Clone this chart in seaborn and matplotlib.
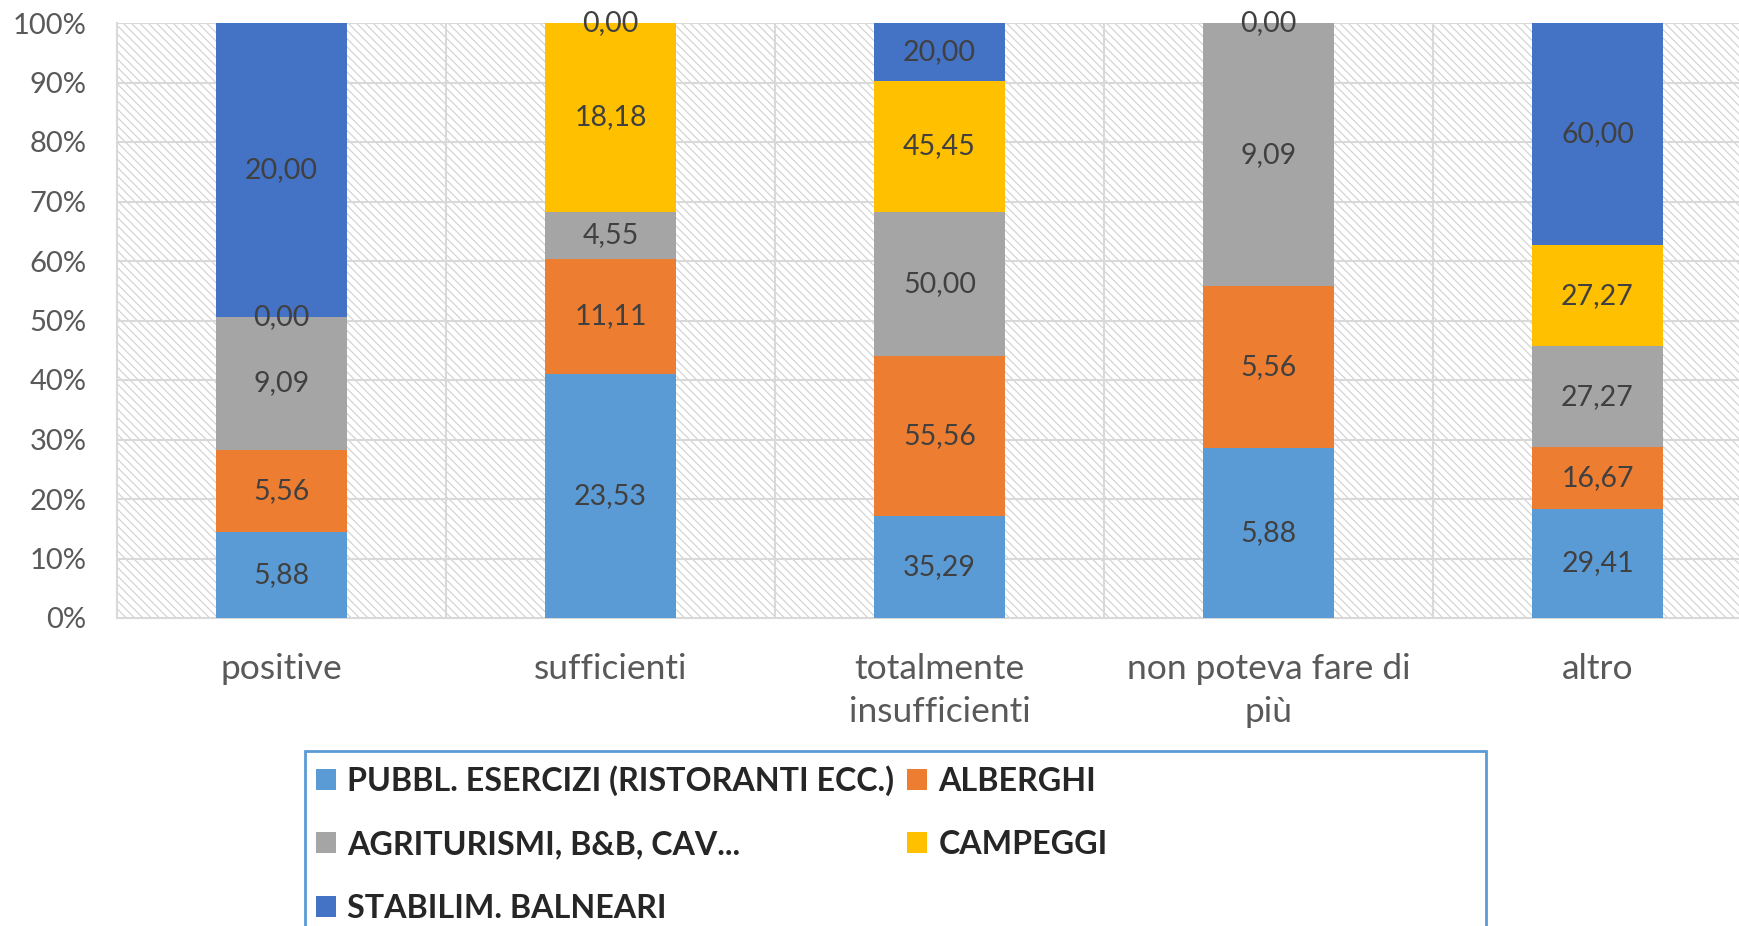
import numpy as np
import pandas as pd
import matplotlib
matplotlib.use("Agg")
import matplotlib.pyplot as plt
from matplotlib.patches import Rectangle, Patch
from matplotlib.ticker import PercentFormatter
import seaborn as sns

# Valori (ogni colonna viene normalizzata al 100%)
categories = ["positive", "sufficienti", "totalmente\ninsufficienti",
              "non poteva fare di\npiù", "altro"]
series_names = ["PUBBL. ESERCIZI (RISTORANTI ECC.)", "ALBERGHI",
                "AGRITURISMI, B&B, CAV...", "CAMPEGGI", "STABILIM. BALNEARI"]
pubbl = [5.88, 23.53, 35.29, 5.88, 29.41]
alberghi = [5.56, 11.11, 55.56, 5.56, 16.67]
agriturismi = [9.09, 4.55, 50.00, 9.09, 27.27]
campeggi = [0.00, 18.18, 45.45, np.nan, 27.27]
balneari = [20.00, 0.00, 20.00, 0.00, 60.00]
colors = ["#5B9BD5", "#ED7D31", "#A5A5A5", "#FFC000", "#4472C4"]

FONT = "Lato"
TEXT_COLOR = "#595959"
GRID_COLOR = "#D9D9D9"


def build_table():
    df = pd.DataFrame({
        "categoria": categories,
        series_names[0]: pubbl,
        series_names[1]: alberghi,
        series_names[2]: agriturismi,
        series_names[3]: campeggi,
        series_names[4]: balneari,
    })
    totals = df[series_names].sum(axis=1)
    for name in series_names:
        df[name + "_pct"] = df[name].fillna(0) / totals * 100
    return df


def fmt(v):
    if pd.isna(v):
        return ""
    return f"{v:.2f}".replace(".", ",")


def draw(df):
    sns.set_style("white")
    plt.rcParams["font.family"] = [FONT, "DejaVu Sans"]
    plt.rcParams["hatch.linewidth"] = 0.8

    fig = plt.figure(figsize=(17.39, 9.26), dpi=100)
    # l'area del grafico prosegue oltre il bordo destro dell'immagine
    ax = fig.add_axes([117 / 1739, (926 - 618) / 926, 1645 / 1739, (618 - 23) / 926])

    # sfondo tratteggiato dell'area del grafico
    ax.add_patch(Rectangle((0, 0), 1, 1, transform=ax.transAxes, facecolor="white",
                           edgecolor="#CFCFCF", hatch="\\\\\\\\", linewidth=0, zorder=0))

    bottom = np.zeros(len(df))
    for name, col in zip(series_names, colors):
        sns.barplot(x=df["categoria"], y=df[name + "_pct"], color=col, width=0.4,
                    bottom=bottom, errorbar=None, saturation=1, linewidth=0,
                    ax=ax, zorder=3)
        ax.bar_label(ax.containers[-1], labels=[fmt(v) for v in df[name]],
                     label_type="center", fontsize=20.5, color="#404040", zorder=4)
        bottom = bottom + df[name + "_pct"].to_numpy()

    ax.set_xlim(-0.5, len(categories) - 0.5)
    ax.set_ylim(0, 100)
    ax.set_yticks(np.arange(0, 101, 10))
    ax.yaxis.set_major_formatter(PercentFormatter(decimals=0))
    ax.hlines(np.arange(10, 101, 10), -0.5, len(categories) - 0.5,
              color=GRID_COLOR, linewidth=1.5, zorder=1)
    ax.vlines(np.arange(0.5, len(categories) - 1, 1), 0, 100,
              color=GRID_COLOR, linewidth=1.5, zorder=1)

    for side in ["top", "right"]:
        ax.spines[side].set_visible(False)
    for side in ["left", "bottom"]:
        ax.spines[side].set_color(GRID_COLOR)
        ax.spines[side].set_linewidth(1.5)
        ax.spines[side].set_zorder(2)

    ax.set_xlabel("")
    ax.set_ylabel("")
    ax.tick_params(axis="y", length=0, pad=22, labelsize=21, labelcolor=TEXT_COLOR)
    ax.tick_params(axis="x", length=0, pad=25, labelsize=25.5, labelcolor=TEXT_COLOR)
    for lab in ax.get_xticklabels():
        lab.set_linespacing(1.45)

    # legenda in basso, riempita per righe come nell'originale
    handles = [Patch(facecolor=c, edgecolor="none") for c in colors]
    order = [0, 2, 4, 1, 3]
    fig.legend([handles[i] for i in order], [series_names[i] for i in order],
               loc="upper left", bbox_to_anchor=(316 / 1739, 1 - 765 / 926), ncol=2,
               frameon=False, borderpad=0, borderaxespad=0, handlelength=0.62,
               handleheight=0.62, handletextpad=0.35, columnspacing=0.4,
               labelspacing=1.07,
               prop={"family": [FONT, "DejaVu Sans"], "weight": "bold", "size": 23.2})
    fig.patches.append(Rectangle((305 / 1739, -0.05), (1486 - 305) / 1739,
                                 1 - 751 / 926 + 0.05, transform=fig.transFigure,
                                 fill=False, edgecolor="#5B9BD5", linewidth=2))

    fig.savefig("out.png", dpi=100)
    print("Saved out.png")


if __name__ == "__main__":
    draw(build_table())
